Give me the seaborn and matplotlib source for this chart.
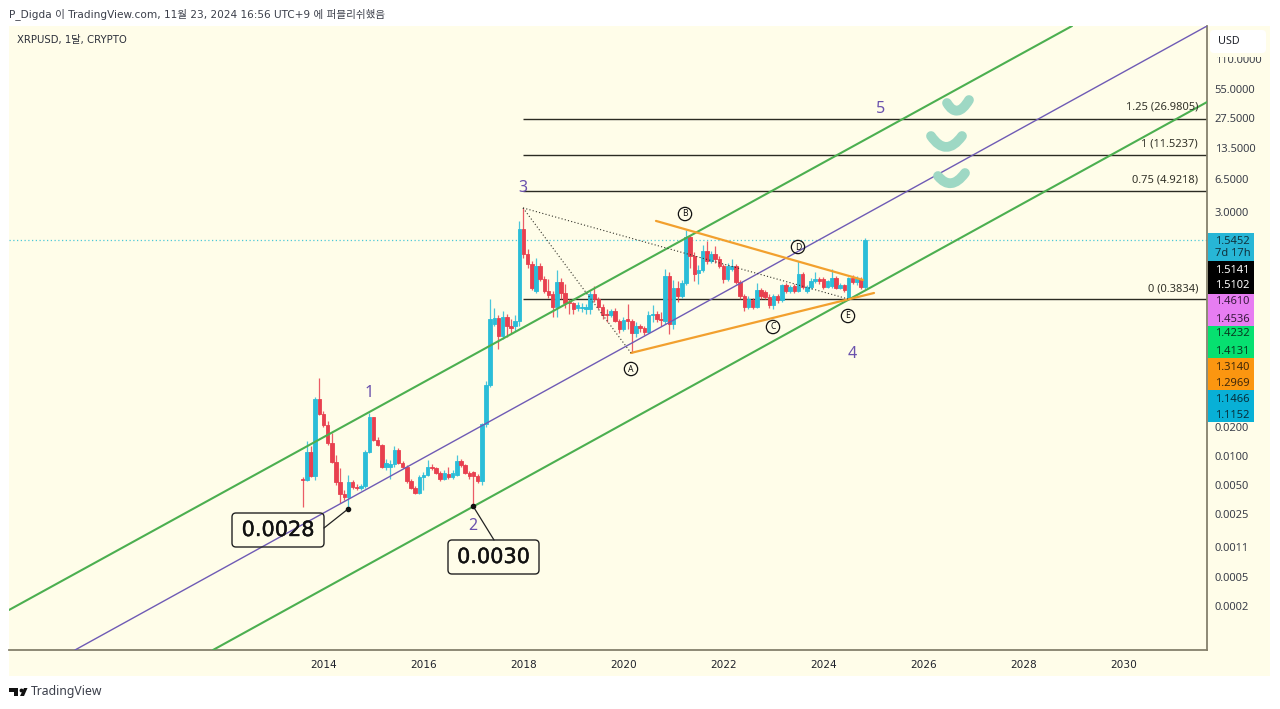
import numpy as np
import pandas as pd
import matplotlib
matplotlib.use("Agg")
import matplotlib.pyplot as plt
import matplotlib.patheffects as pe
from matplotlib.lines import Line2D
from matplotlib.path import Path
from matplotlib.patches import FancyBboxPatch, Rectangle, Polygon, PathPatch
import seaborn as sns

opens = [.0055,.0053,.0104,.0058,.036,.0255,.0196,.0128,.0082,.0051,.0038,.0036,.0051,.0045,.0044,.0046,.0104,.0235,.0138,.0123,
         .0072,.0073,.0077,.0107,.008,.0073,.0052,.0044,.0039,.0057,.006,.0073,.007,.0063,.0055,.0062,.0057,.006,.0084,.0076,
         .0063,.0064,.0059,.0052,.02,.05,.21,.245,.16,.25,.2,.2,.23,2.0,1.11,.88,.46,.84,.62,.46,
         .43,.32,.57,.44,.36,.35,.31,.31,.30,.30,.43,.38,.32,.27,.26,.29,.225,.19,.24,.225,
         .17,.2,.195,.175,.26,.27,.24,.23,.66,.21,.5,.41,.56,1.65,1.05,.7,.76,1.18,.93,1.1,
         .98,.83,.61,.78,.84,.57,.41,.32,.37,.32,.47,.45,.4,.33,.41,.37,.53,.46,.52,.46,
         .69,.46,.51,.58,.62,.62,.51,.52,.63,.5,.53,.38,.63,.57,.62,.51]
highs = [.0057,.0135,.0118,.038,.059,.027,.0215,.0162,.0097,.007,.0042,.006,.0053,.0049,.0049,.0109,.026,.0235,.0148,.0125,
         .0087,.0085,.0118,.0113,.0084,.0075,.0054,.0046,.006,.0064,.0085,.0078,.0072,.0066,.0068,.0072,.0067,.0095,.0088,.0078,
         .0066,.0066,.0062,.0205,.055,.38,.31,.26,.29,.27,.24,.26,2.4,3.29,1.25,.93,1.0,.9,.66,.62,
         .46,.76,.63,.55,.38,.36,.36,.35,.34,.46,.52,.4,.34,.3,.3,.31,.24,.25,.34,.24,
         .22,.21,.2,.29,.33,.29,.28,.78,.72,.6,.58,.6,1.96,1.75,1.15,.85,1.38,1.5,1.2,1.35,
         1.05,.88,.9,.98,.88,.6,.43,.41,.39,.56,.5,.47,.43,.43,.43,.55,.56,.53,.55,.93,
         .72,.53,.63,.72,.64,.65,.6,.77,.66,.56,.55,.65,.68,.66,.65,1.6]
lows = [.0028,.0052,.0057,.0053,.0249,.0188,.0123,.008,.00475,.0031,.0033,.00275,.0043,.0042,.0042,.0044,.0101,.0135,.0118,.007,
        .0068,.0055,.0072,.0078,.007,.005,.0043,.0038,.0038,.0042,.0058,.0068,.0061,.0052,.0053,.0054,.0055,.0058,.0072,.0061,
        .0055,.003,.005,.0047,.0185,.048,.2,.118,.149,.155,.17,.18,.2,1.0,.8,.47,.44,.58,.44,.39,
        .25,.25,.38,.31,.27,.27,.29,.28,.27,.27,.36,.3,.24,.22,.25,.22,.17,.18,.19,.107,
        .155,.175,.165,.17,.22,.22,.2,.21,.167,.19,.36,.39,.53,.8,.58,.55,.72,.88,.9,.9,
        .79,.56,.59,.74,.55,.38,.29,.3,.3,.31,.38,.38,.31,.3,.35,.36,.44,.44,.44,.45,
        .49,.44,.49,.56,.55,.49,.5,.5,.48,.48,.45,.37,.55,.53,.49,.49]
closes = [.0053,.0104,.0058,.036,.0255,.0196,.0128,.0082,.0051,.0038,.0036,.0051,.0045,.0044,.0046,.0104,.0235,.0138,.0123,.0072,
          .008,.0077,.0109,.008,.0072,.0052,.0044,.0039,.0057,.006,.0073,.007,.0063,.0054,.0063,.0057,.0063,.0084,.0076,.0063,
          .0058,.0059,.0052,.02,.05,.24,.245,.16,.25,.2,.195,.23,2.0,1.11,.88,.5,.84,.62,.46,.42,
          .32,.57,.44,.35,.35,.3,.33,.32,.32,.43,.38,.32,.26,.26,.29,.23,.19,.235,.225,.17,
          .2,.195,.175,.26,.27,.24,.235,.66,.21,.5,.41,.56,1.65,1.05,.69,.76,1.18,.93,1.1,.98,
          .83,.61,.83,.84,.57,.41,.32,.38,.32,.47,.41,.4,.33,.41,.37,.53,.46,.51,.46,.69,
          .51,.51,.59,.62,.58,.51,.58,.63,.5,.53,.47,.63,.57,.63,.51,1.545]

year_ticks = [2014, 2016, 2018, 2020, 2022, 2024, 2026, 2028, 2030]
price_ticks = [110, 55, 27.5, 13.5, 6.5, 3, .0186, .0093, .0047, .0024, .0011, .00054, .00027]
price_labels = ["110.0000", "55.0000", "27.5000", "13.5000", "6.5000", "3.0000", "0.0200", "0.0100",
                "0.0050", "0.0025", "0.0011", "0.0005", "0.0002"]
fib_levels = [26.9805, 11.5237, 4.9218, 0.3834]
fib_names = ["1.25 (26.9805)", "1 (11.5237)", "0.75 (4.9218)", "0 (0.3834)"]
last_price = 1.5452

upper_x, upper_y = [2007.71, 2028.97], [2.47e-4, 241.7]
mid_x, mid_y = [2009.03, 2031.67], [9.6e-5, 241.7]
lower_x, lower_y = [2011.79, 2031.67], [9.6e-5, 40.1]
orange_top_x, orange_top_y = [2020.65, 2024.79], [2.42, .6]
orange_low_x, orange_low_y = [2020.15, 2025.01], [.107, .441]
dot_a_x, dot_a_y = [2017.99, 2020.15], [3.29, .107]
dot_e_x, dot_e_y = [2017.99, 2024.49], [3.29, .3834]

side_tags = [("#27b6d6", 233, 261, [("1.5452", 241, "#10333f"), ("7d 17h", 254, "#10333f")]),
             ("#000000", 261, 294, [("1.5141", 270, "white"), ("1.5102", 286, "white")]),
             ("#e77df2", 294, 326, [("1.4610", 302, "#3a1a40"), ("1.4536", 319, "#3a1a40")]),
             ("#06e070", 326, 358, [("1.4232", 334, "#063a20"), ("1.4131", 351, "#063a20")]),
             ("#fb9610", 358, 390, [("1.3140", 367, "#40280a"), ("1.2969", 383, "#40280a")]),
             ("#08b0d6", 390, 422, [("1.1466", 399, "#06303c"), ("1.1152", 415, "#06303c")])]

W, H = 1280, 709
CREAM = "#fffde9"
AXISC = "#85806c"
UP = "#2bbdd8"
DOWN = "#e8404f"
GREEN = "#4caf50"
PURPLE = "#6f5bb5"
ORANGE = "#f2a02e"
TXT = "#1f222b"

sns.set_theme(style="white")
plt.rcParams["font.family"] = ["Noto Sans", "DejaVu Sans", "Noto Sans CJK KR"]

fig = plt.figure(figsize=(W / 100, H / 100), dpi=100, facecolor="white")


def fx(x):
    return x / W


def fy(y):
    return 1 - y / H


fig.add_artist(Rectangle((fx(9), fy(676)), 1261 / W, 650 / H, transform=fig.transFigure,
                         fc=CREAM, ec="none", zorder=-5))
ax = fig.add_axes([fx(9), fy(650), 1198 / W, 624 / H], facecolor=CREAM)
ax.set_yscale("log")
ax.set_xlim(2007.71, 2031.67)
ax.set_ylim(9.6e-5, 241.7)

dates = pd.date_range("2013-08-01", periods=len(opens), freq="MS")
xs = dates.year + (dates.month - 1) / 12
o, h, l, c = map(np.array, (opens, highs, lows, closes))
cols = np.where(c >= o, UP, DOWN)

ax.axhline(last_price, color="#4cc9d8", lw=0.9, ls=(0, (1, 2)), zorder=1)
for lv in fib_levels:
    ax.hlines(lv, 2017.99, 2031.67, color="#2b2b22", lw=1.0, zorder=2)

ax.vlines(xs, l, h, colors=cols, lw=0.9, alpha=0.85, zorder=3)
ax.bar(xs, np.abs(c - o), bottom=np.minimum(o, c), width=0.07, color=cols, edgecolor=cols, lw=0.6, zorder=4)

for lx, ly, col, lw in [(upper_x, upper_y, GREEN, 1.5), (lower_x, lower_y, GREEN, 1.5), (mid_x, mid_y, PURPLE, 1.0),
                        (orange_top_x, orange_top_y, ORANGE, 1.6), (orange_low_x, orange_low_y, ORANGE, 1.6)]:
    sns.lineplot(x=lx, y=ly, color=col, lw=lw, ax=ax, estimator=None, sort=False, zorder=5)
for lx, ly in [(dot_a_x, dot_a_y), (dot_e_x, dot_e_y)]:
    sns.lineplot(x=lx, y=ly, color="#33332a", lw=0.8, ax=ax, estimator=None, sort=False,
                 linestyle=(0, (1, 2)), zorder=5)

ax.set_xticks(year_ticks, [str(t) for t in year_ticks], fontsize=7.6, color=TXT, family="DejaVu Sans")
ax.set_yticks(price_ticks, price_labels, fontsize=8, color="#3b3f4a")
ax.minorticks_off()
ax.yaxis.tick_right()
ax.tick_params(axis="x", length=0, pad=7)
ax.tick_params(axis="y", length=0, pad=5.5, right=False)
for s in ("top", "left"):
    ax.spines[s].set_visible(False)
for s in ("right", "bottom"):
    ax.spines[s].set_color(AXISC)
    ax.spines[s].set_linewidth(1.3)

# checkmarks
for a, b, d in [((947, 103), (957, 120), (969, 100)), ((931, 136), (946, 158), (962, 136)), ((938, 176), (951, 192), (965, 173))]:
    verts = [(fx(p[0]), fy(p[1])) for p in (a, b, d)]
    fig.add_artist(PathPatch(Path(verts, [Path.MOVETO, Path.CURVE3, Path.CURVE3]), fc="none", ec="#9ed8c4", lw=7,
                             capstyle="round", joinstyle="round", transform=fig.transFigure, zorder=6))

# fibonacci labels
for name, y in zip(fib_names, [107, 144, 180, 289]):
    fig.text(fx(1198), fy(y), name, ha="right", va="center", fontsize=8, color="#33332a", zorder=8)

# wave numbers
for s, x, y in [("1", 369, 393), ("2", 473, 526), ("3", 523, 188), ("4", 852, 354), ("5", 881, 109)]:
    fig.text(fx(x), fy(y), s, ha="center", va="center", fontsize=11.5, color="#6a51ad", zorder=8)

# wave letters
for s, x, y in [("A", 631, 369), ("B", 685, 214), ("C", 773, 327), ("D", 798, 247), ("E", 848, 316)]:
    fig.text(fx(x), fy(y), s, ha="center", va="center", fontsize=6.2, color="#111111", zorder=8,
             bbox=dict(boxstyle="circle,pad=0.25", fc="none", ec="#111111", lw=0.9))

# callouts
for s, x0, y0, x1, y1, seg in [("0.0028", 232, 513, 324, 547, [(348, 509), (324, 528)]),
                               ("0.0030", 448, 540, 539, 574, [(473, 506), (494, 540)])]:
    fig.add_artist(FancyBboxPatch((x0 + 4, H - y1 + 4), x1 - x0 - 8, y1 - y0 - 8,
                                  boxstyle="round,pad=4,rounding_size=4", transform=None,
                                  fc="none", ec="#222222", lw=1.0, zorder=7))
    fig.text(fx((x0 + x1) / 2), fy((y0 + y1) / 2), s, ha="center", va="center", fontsize=15,
             color="#111111", zorder=8, family="DejaVu Sans",
             path_effects=[pe.withStroke(linewidth=0.3, foreground="#111111")])
    fig.add_artist(Line2D([fx(p[0]) for p in seg], [fy(p[1]) for p in seg], color="#222222", lw=0.9,
                          transform=fig.transFigure, zorder=7))
    fig.add_artist(Line2D([fx(seg[0][0])], [fy(seg[0][1])], marker="o", ms=3, color="#111111",
                          transform=fig.transFigure, zorder=8))

# side price tags
for col, y0, y1, rows in side_tags:
    fig.add_artist(Rectangle((fx(1207.5), fy(y1)), 46.5 / W, (y1 - y0) / H, transform=fig.transFigure,
                             fc=col, ec="none", zorder=6))
    for s, y, tc in rows:
        fig.text(fx(1215), fy(y), s, ha="left", va="center", fontsize=8, color=tc, zorder=8)

# USD button, which cuts the top of the first price label
fig.add_artist(Rectangle((fx(1208), fy(57)), 60 / W, 27 / H, transform=fig.transFigure, fc=CREAM, ec="none", zorder=6))
fig.add_artist(FancyBboxPatch((1214, H - 49), 48, 15, boxstyle="round,pad=4,rounding_size=4", transform=None,
                              fc="white", ec="none", zorder=7))
fig.text(fx(1218), fy(41.5), "USD", ha="left", va="center", fontsize=7.8, color=TXT, zorder=8)

# header, symbol and footer
fig.text(fx(9), fy(14), "P_Digda 이 TradingView.com, 11월 23, 2024 16:56 UTC+9 에 퍼블리쉬했음",
         ha="left", va="center", fontsize=7.6, color="#3b3f4a",
         family=["DejaVu Sans", "Noto Sans CJK KR"])
fig.text(fx(17), fy(40), "XRPUSD, 1달, CRYPTO", ha="left", va="center", fontsize=7.3, color="#2a2e39",
         family=["DejaVu Sans", "Noto Sans CJK KR"])
fig.text(fx(31), fy(692), "TradingView", ha="left", va="center", fontsize=8.8, color="#3b3f4a")
for poly in ([(9, 688), (18, 688), (18, 696), (13.5, 696), (13.5, 692), (9, 692)],
             [(20, 696), (24, 688), (27.5, 688), (24, 696)]):
    fig.add_artist(Polygon([(fx(a), fy(b)) for a, b in poly], closed=True, fc="#111111", ec="none",
                           transform=fig.transFigure))
fig.add_artist(Line2D([fx(21)], [fy(690)], marker="o", ms=2.8, color="#111111", mew=0, transform=fig.transFigure))

fig.savefig("out.png", dpi=100, facecolor="white")
